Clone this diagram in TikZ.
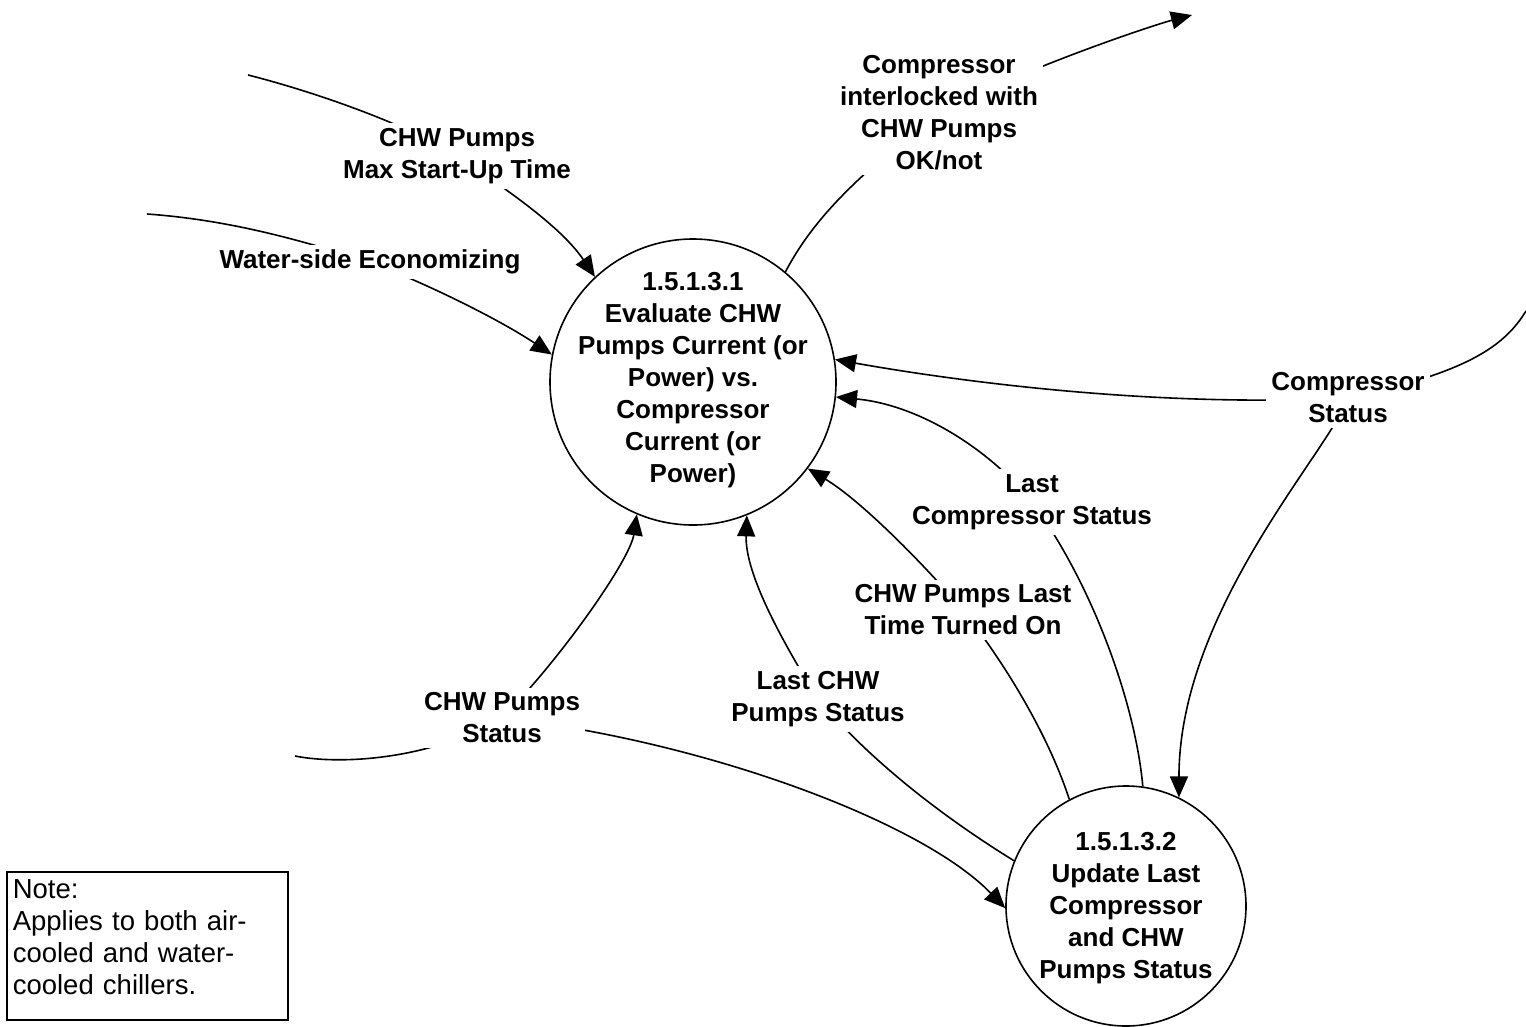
\documentclass[tikz,border=0pt]{standalone}
\usepackage{fontspec}
\setmainfont{Liberation Sans}
\usetikzlibrary{arrows.meta}
\pgfdeclarelayer{background}
\pgfsetlayers{background,main}
\tikzset{
  proc/.style={circle, draw, line width=1.6pt, minimum size=286pt, inner sep=0pt},
  proctext/.style={font=\fontsize{26}{32}\selectfont\bfseries, align=center, inner sep=0pt},
  flowlbl/.style={font=\fontsize{26}{32}\selectfont\bfseries, align=center, fill=white, inner sep=5pt},
  flow/.style={line width=1.6pt, -{Triangle[length=21pt,width=18pt]}},
  plainflow/.style={line width=1.6pt},
  notebox/.style={draw, line width=1.6pt, font=\fontsize{27.5}{32}\selectfont, align=left,
    text width=269pt, inner xsep=6pt, inner ysep=0pt, text height=27pt, text depth=121pt}
}
\begin{document}
\begin{tikzpicture}[x=1pt,y=-1pt]
\useasboundingbox (0,0) rectangle (1526,1026);

% processes
\node[proc, label={[proctext, yshift=2pt]center:{1.5.1.3.1\\Evaluate CHW\\Pumps Current (or\\Power) vs.\\Compressor\\Current (or\\Power)}}] (c1) at (693,382) {};
\node[proc, minimum size=240pt, label={[proctext, yshift=-2pt]center:{1.5.1.3.2\\Update Last\\Compressor\\and CHW\\Pumps Status}}] (c2) at (1126,906) {};

% flow labels
\node[flowlbl] (L1) at (457,156) {CHW Pumps\\Max Start-Up Time};
\node[flowlbl] (L2) at (370,262) {Water-side Economizing};
\node[flowlbl] (L3) at (939,113) {Compressor\\interlocked with\\CHW Pumps\\OK/not};
\node[flowlbl] (L4) at (1348,398) {Compressor\\Status};
\node[flowlbl] (L5) at (1032,502) {Last\\Compressor Status};
\node[flowlbl] (L6) at (963,610) {CHW Pumps Last\\Time Turned On};
\node[flowlbl] (L7) at (818,699) {Last CHW\\Pumps Status};
\node[flowlbl] (L8) at (502,718) {CHW Pumps\\Status};

% free ends
\coordinate (s1) at (248,75);
\coordinate (s2) at (147,214);
\coordinate (e3) at (1192,15);
\coordinate (e4) at (1526,311);
\coordinate (e8) at (295,756);

% note
\node[notebox, anchor=north west] (note) at (6,871) {Note:\\Applies to both air-\\cooled and water-\\cooled chillers.};

\begin{pgfonlayer}{background}
\draw[flow] (s1) .. controls (300,88) and (400,120) .. (L1.center)
  .. controls (500,185) and (560,225) .. (c1.133);
\draw[flow] (s2) .. controls (230,220) and (300,240) .. (L2.center)
  .. controls (430,285) and (500,320) .. (c1.169);
\draw[flow] (c1.50) .. controls (810,225) and (850,180) .. (L3.center)
  .. controls (1020,70) and (1150,26) .. (e3);
\draw[plainflow] (e4) .. controls (1505,345) and (1470,372) .. (L4.center);
\draw[flow] (L4.center) .. controls (1150,408) and (950,380) .. (c1.9);
\draw[flow] (L4.center) .. controls (1330,450) and (1179,610) .. (c2.64);
\draw[flow] (c2.82) .. controls (1135,700) and (1090,580) .. (L5.center)
  .. controls (990,450) and (920,405) .. (c1.-6);
\draw[flow] (c2.118) .. controls (1050,740) and (1010,670) .. (L6.center)
  .. controls (920,560) and (860,500) .. (c1.-37);
\draw[flow] (c2.158) .. controls (940,815) and (870,760) .. (L7.center)
  .. controls (775,630) and (745,570) .. (c1.-68);
\draw[plainflow] (e8) .. controls (340,765) and (430,760) .. (L8.center);
\draw[flow] (L8.center) .. controls (560,660) and (630,560) .. (c1.-113);
\draw[flow] (L8.center) .. controls (700,740) and (920,820) .. (c2.181);
\end{pgfonlayer}
\end{tikzpicture}
\end{document}
